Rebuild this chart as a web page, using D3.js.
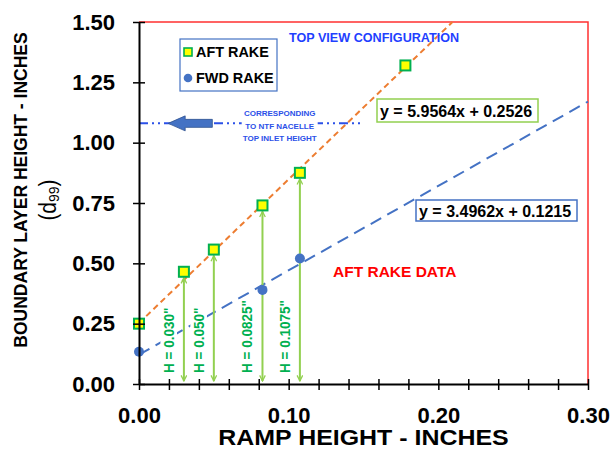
<!DOCTYPE html>
<html><head><meta charset="utf-8">
<script src="https://cdn.jsdelivr.net/npm/d3@7"></script>
<style>body{margin:0;background:#fff}svg{display:block;font-family:"Liberation Sans",Arial,sans-serif}</style>
</head><body><svg id="c" width="614" height="451"></svg>
<script>
// ---- data ----
const aftX = [0, 0.030, 0.050, 0.0825, 0.1075, 0.178];
const aftY = [0.25, 0.465, 0.557, 0.74, 0.875, 1.32];
const fwdX = [0, 0.0825, 0.1075];
const fwdY = [0.134, 0.39, 0.52];
const aftSlope = 5.9564, aftIntercept = 0.2526;
const fwdSlope = 3.4962, fwdIntercept = 0.1215;
const rampHeights = [0.030, 0.050, 0.0825, 0.1075];
const rampAftY = [0.465, 0.557, 0.74, 0.875];
const rampLabels = ['H = 0.030"', 'H = 0.050"', 'H = 0.0825"', 'H = 0.1075"'];
const xTickLabels = [0, 0.10, 0.20, 0.30];
const xMinorTicks = d3.range(0, 0.3001, 0.02);
const yTickLabels = [0, 0.25, 0.50, 0.75, 1.00, 1.25, 1.50];
const topInletHeight = 1.08;
const topInletExtent = 0.15;

// ---- scales ----
const svg = d3.select('#c');
const xS = d3.scaleLinear().domain([0, 0.3]).range([139, 588]);
const yS = d3.scaleLinear().domain([0, 1.5]).range([384, 22]);

function txt(g, s, x, y, o) {
  o = o || {};
  const sx = o.sx || 1;
  let tr = `translate(${x},${y}) scale(${sx},1)` + (o.rot ? ' rotate(-90)' : '');
  return g.append('text').attr('transform', tr)
    .attr('font-size', o.size || 12).attr('font-weight', o.weight || 'bold')
    .attr('fill', o.fill || '#000').attr('text-anchor', o.anchor || 'start').text(s);
}

// plot border (red, top & right)
svg.append('path').attr('d', `M${xS(0)},${yS(1.5)}H${xS(0.3)}V${yS(0)}`)
  .attr('fill', 'none').attr('stroke', '#ff3030').attr('stroke-width', 1.5);

// trend lines
const aftXEnd = (1.5 - aftIntercept) / aftSlope;
svg.append('line')
  .attr('x1', xS(0)).attr('y1', yS(aftIntercept))
  .attr('x2', xS(aftXEnd)).attr('y2', yS(aftSlope * aftXEnd + aftIntercept))
  .attr('stroke', '#ed7d31').attr('stroke-width', 2).attr('stroke-dasharray', '6,4');
svg.append('line')
  .attr('x1', xS(0)).attr('y1', yS(fwdIntercept))
  .attr('x2', xS(0.3)).attr('y2', yS(fwdSlope * 0.3 + fwdIntercept))
  .attr('stroke', '#4472c4').attr('stroke-width', 2).attr('stroke-dasharray', '12,7');

// top inlet dash-dot line
svg.append('line')
  .attr('x1', xS(0)).attr('x2', xS(topInletExtent))
  .attr('y1', yS(topInletHeight)).attr('y2', yS(topInletHeight))
  .attr('stroke', '#2b50e8').attr('stroke-width', 2).attr('stroke-dasharray', '9,4,2,4,2,4');

// block arrow
{
  const tip = xS(0.0195), tail = xS(0.049), cy = yS(topInletHeight);
  const headL = 17, headH = 7.5, shaftH = 4;
  svg.append('path')
    .attr('d', `M${tip},${cy} L${tip + headL},${cy - headH} L${tip + headL},${cy - shaftH} L${tail},${cy - shaftH} L${tail},${cy + shaftH} L${tip + headL},${cy + shaftH} L${tip + headL},${cy + headH} Z`)
    .attr('fill', '#4472c4').attr('stroke', '#2f528f').attr('stroke-width', 0.8);
}
// note text with white background
{
  const cx = xS(0.094), cy = yS(topInletHeight);
  svg.append('rect').attr('x', cx - 38).attr('y', cy - 18).attr('width', 76).attr('height', 40).attr('fill', '#fff');
  ['CORRESPONDING', 'TO NTF NACELLE', 'TOP INLET HEIGHT'].forEach((s, i) =>
    txt(svg, s, cx, cy - 7 + i * 12.5, {size: 8, anchor: 'middle', fill: '#2b50e8'}));
}

// green arrows + labels
svg.append('defs').html(
  '<marker id="ah" viewBox="0 0 10 10" refX="9" refY="5" markerWidth="7" markerHeight="7" orient="auto-start-reverse" markerUnits="userSpaceOnUse">' +
  '<path d="M1,1 L9,5 L1,9" fill="none" stroke="#92d050" stroke-width="1.8"/></marker>');
rampHeights.forEach((h, i) => {
  svg.append('line')
    .attr('x1', xS(h)).attr('x2', xS(h))
    .attr('y1', yS(rampAftY[i]) + 6).attr('y2', yS(0) - 3)
    .attr('stroke', '#92d050').attr('stroke-width', 2)
    .attr('marker-start', 'url(#ah)').attr('marker-end', 'url(#ah)');
  const g = svg.append('g').attr('transform', `translate(${xS(h) - 10},${yS(0) - 11}) scale(1.08,1) rotate(-90)`);
  const t = g.append('text').attr('font-size', 13.5).attr('font-weight', 'bold').attr('fill', '#00b050').text(rampLabels[i]);
  const bb = t.node().getBBox();
  g.insert('rect', 'text').attr('x', bb.x - 1).attr('y', bb.y).attr('width', bb.width + 2).attr('height', bb.height).attr('fill', '#fff');
});

// markers
svg.append('g').selectAll('circle').data(fwdX).join('circle')
  .attr('cx', (d) => xS(d)).attr('cy', (d, i) => yS(fwdY[i])).attr('r', 5)
  .attr('fill', '#4472c4');
svg.append('g').selectAll('rect').data(aftX).join('rect')
  .attr('x', (d) => xS(d) - 5).attr('y', (d, i) => yS(aftY[i]) - 5).attr('width', 10).attr('height', 10)
  .attr('fill', '#ffff00').attr('stroke', '#00b050').attr('stroke-width', 2);

// axes
const yAx = svg.append('g').attr('transform', `translate(${xS(0)},0)`)
  .call(d3.axisLeft(yS).tickValues(yTickLabels).tickFormat(d3.format('.2f')).tickSize(6).tickSizeOuter(0).tickPadding(18));
yAx.selectAll('.tick line').attr('x1', 6).attr('x2', -6).attr('stroke-width', 1.5);
yAx.select('.domain').attr('stroke-width', 2);
yAx.selectAll('text').attr('font-size', 22).attr('font-weight', 'bold').attr('font-family', '"Liberation Sans",Arial,sans-serif').attr('fill', '#000');

const xAx = svg.append('g').attr('transform', `translate(0,${yS(0)})`)
  .call(d3.axisBottom(xS).tickValues(xMinorTicks).tickFormat('').tickSize(6).tickSizeOuter(0));
xAx.selectAll('.tick line').attr('y1', -5).attr('y2', 6).attr('stroke-width', 1.5);
xAx.select('.domain').attr('stroke-width', 2);
const xLab = svg.append('g').attr('transform', `translate(0,${yS(0)})`)
  .call(d3.axisBottom(xS).tickValues(xTickLabels).tickFormat(d3.format('.2f')).tickSize(0).tickPadding(23));
xLab.select('.domain').remove();
xLab.selectAll('text').attr('font-size', 22).attr('font-weight', 'bold').attr('font-family', '"Liberation Sans",Arial,sans-serif').attr('fill', '#000');

// axis titles
txt(svg, 'RAMP HEIGHT - INCHES', (xS(0) + xS(0.3)) / 2, 445, {size: 21.5, sx: 1.16, anchor: 'middle'});
txt(svg, 'BOUNDARY LAYER HEIGHT - INCHES', 27, 190, {size: 17.5, sx: 1.05, rot: true, anchor: 'middle'});
{
  const t = txt(svg, '', 56, 200, {size: 21, sx: 1.1, rot: true, anchor: 'middle', weight: 'normal'});
  t.append('tspan').text('(d');
  t.append('tspan').attr('font-size', 14).attr('dy', 3).text('99');
  t.append('tspan').attr('dy', -3).text(')');
}

// legend
svg.append('rect').attr('x', 180).attr('y', 39).attr('width', 97).attr('height', 52)
  .attr('fill', '#fff').attr('stroke', '#4472c4').attr('stroke-width', 1.2);
svg.append('rect').attr('x', 184).attr('y', 48).attr('width', 8).attr('height', 8)
  .attr('fill', '#ffff00').attr('stroke', '#00b050').attr('stroke-width', 1.6);
svg.append('circle').attr('cx', 188).attr('cy', 78).attr('r', 4.3).attr('fill', '#4472c4');
txt(svg, 'AFT RAKE', 196, 57, {size: 14, sx: 1.03});
txt(svg, 'FWD RAKE', 196, 83, {size: 14, sx: 1.03});

// equation boxes
svg.append('rect').attr('x', 377).attr('y', 99).attr('width', 161).attr('height', 23)
  .attr('fill', '#fff').attr('stroke', '#92d050').attr('stroke-width', 1.5);
txt(svg, `y = ${aftSlope}x + ${aftIntercept}`, 380, 117, {size: 16});
svg.append('rect').attr('x', 416).attr('y', 200).attr('width', 161).attr('height', 21)
  .attr('fill', '#fff').attr('stroke', '#4472c4').attr('stroke-width', 1.5);
txt(svg, `y = ${fwdSlope}x + ${fwdIntercept}`, 419, 217, {size: 16});

// annotations
txt(svg, 'TOP VIEW CONFIGURATION', 289, 42, {size: 13, sx: 0.97, fill: '#1f3fff'});
txt(svg, 'AFT RAKE DATA', 333, 277, {size: 15.5, fill: '#ff0000'});
</script></body></html>
